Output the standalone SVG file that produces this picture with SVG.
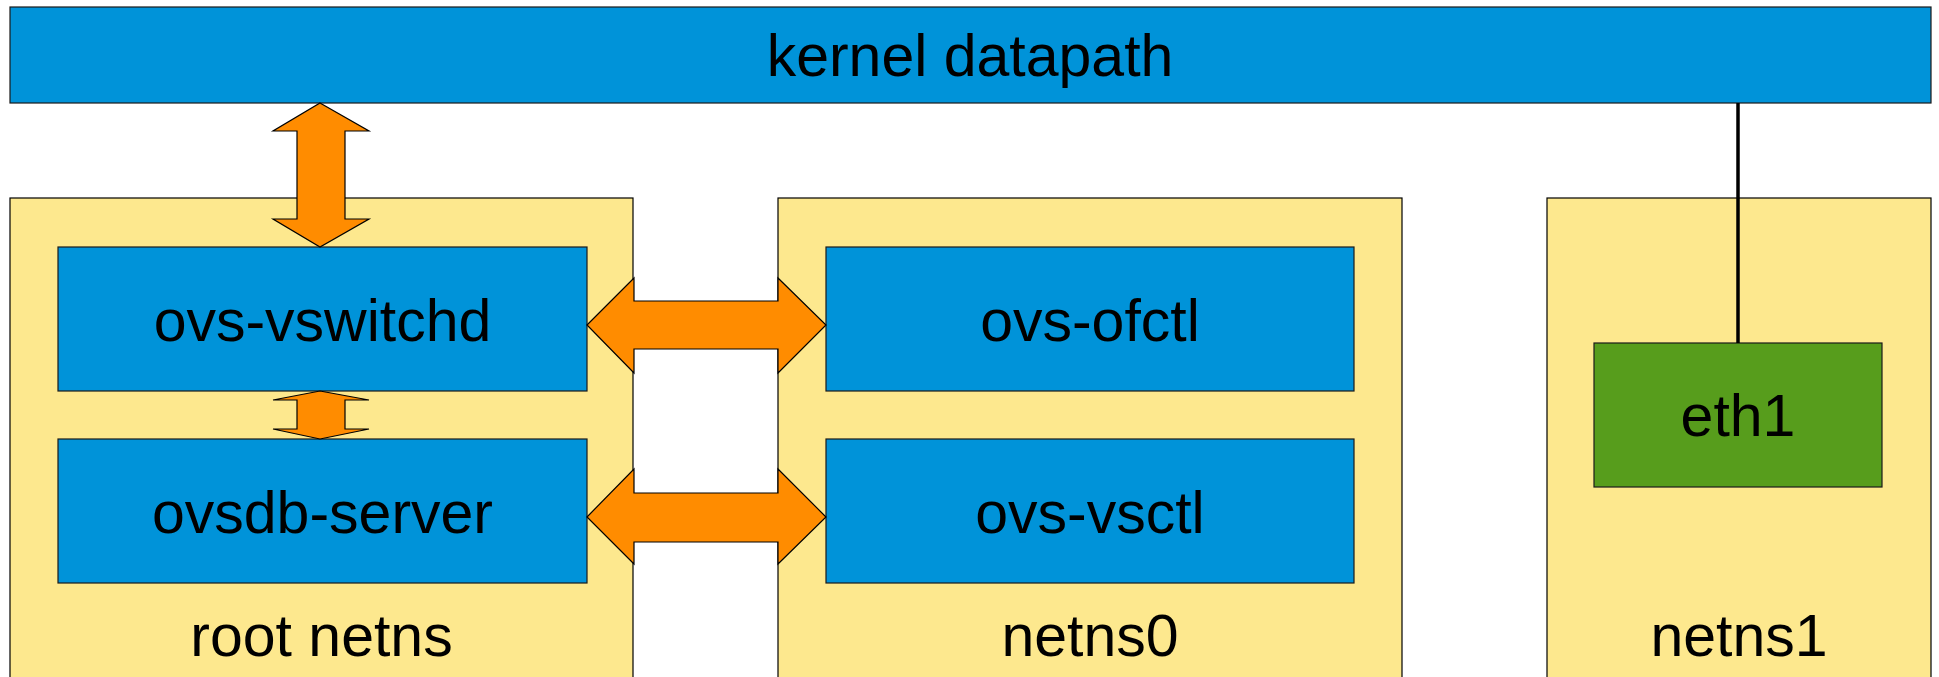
<svg xmlns="http://www.w3.org/2000/svg" width="1939" height="677" viewBox="0 0 1939 677">
<style>
.ns{fill:#fde88e;stroke:#000;stroke-width:1.2}
.blue{fill:#0093d9;stroke:#1a1a1a;stroke-width:1.2}
.green{fill:#579d1c;stroke:#1a1a1a;stroke-width:1.2}
.arr{fill:#ff8c00;stroke:#000;stroke-width:1.2;stroke-linejoin:miter}
.line{stroke:#000;stroke-width:3.5;fill:none}
text{font-family:"Liberation Sans",Arial,sans-serif;font-size:59px;fill:#000;text-anchor:middle}
</style>
<rect width="1939" height="677" fill="#fff"/>
<g id="root-netns"><rect class="ns" x="10" y="198" width="623" height="492"/><text x="321.5" y="656">root netns</text></g>
<g id="netns0"><rect class="ns" x="778" y="198" width="624" height="492"/><text x="1090" y="656">netns0</text></g>
<g id="netns1"><rect class="ns" x="1547" y="198" width="384" height="492"/><text x="1739" y="656">netns1</text></g>
<g id="kernel-datapath"><rect class="blue" x="10" y="7" width="1921" height="96"/><text x="970" y="76">kernel datapath</text></g>
<g id="ovs-vswitchd"><rect class="blue" x="58" y="247" width="529" height="144"/><text x="322.5" y="341">ovs-vswitchd</text></g>
<g id="ovsdb-server"><rect class="blue" x="58" y="439" width="529" height="144"/><text x="322.5" y="533">ovsdb-server</text></g>
<g id="ovs-ofctl"><rect class="blue" x="826" y="247" width="528" height="144"/><text x="1090" y="341">ovs-ofctl</text></g>
<g id="ovs-vsctl"><rect class="blue" x="826" y="439" width="528" height="144"/><text x="1090" y="533">ovs-vsctl</text></g>
<g id="eth1"><rect class="green" x="1594" y="343" width="288" height="144"/><text x="1738" y="436">eth1</text></g>
<g id="connectors">
<polygon class="arr" points="320,103 369,131 345,131 345,219 369,219 320,247 273,219 297,219 297,131 273,131"/>
<polygon class="arr" points="320,391 369,400 345,400 345,429 369,429 320,439 273,429 297,429 297,400 273,400"/>
<polygon class="arr" points="587,325 634,278 634,301 778,301 778,278 826,325 778,373 778,349 634,349 634,373"/>
<polygon class="arr" points="587,517 634,469 634,493 778,493 778,469 826,517 778,564 778,542 634,542 634,564"/>
<line class="line" x1="1738" y1="103" x2="1738" y2="343"/>
</g>
</svg>
